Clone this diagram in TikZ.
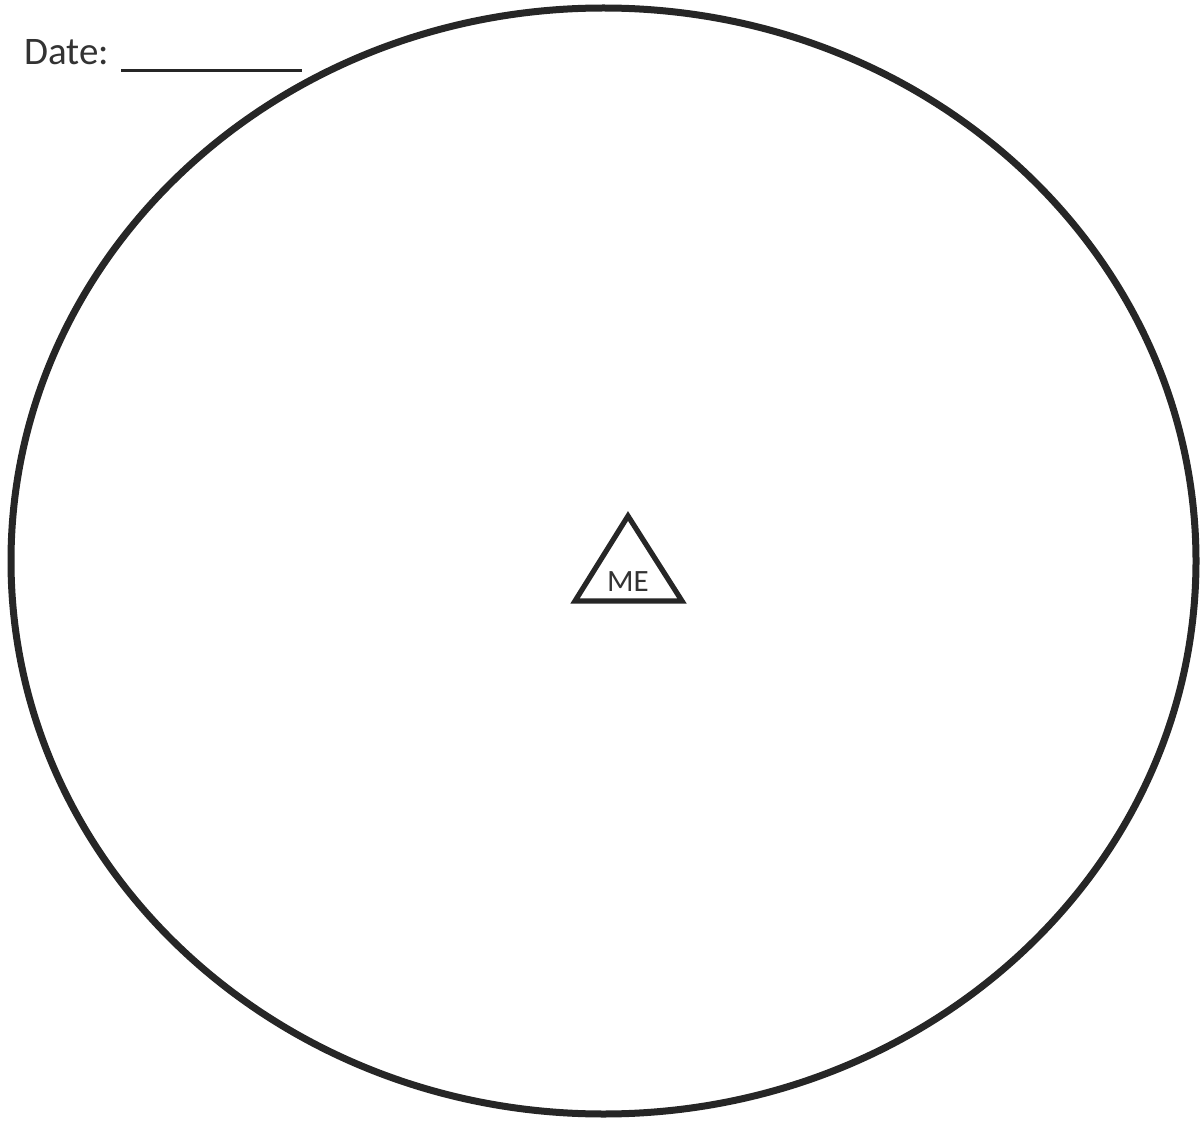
\documentclass[tikz,border=0pt]{standalone}
\usepackage{fontspec}
\setmainfont{Carlito}
\begin{document}
\begin{tikzpicture}[x=0.5pt,y=-0.5pt,
  outline/.style={draw=black!85, line width=3.5pt},
  tri/.style={draw=black!85, line width=2.6pt, line join=miter},
  lbl/.style={inner sep=0pt, text=black!80}]
\useasboundingbox[fill=white] (0,0) rectangle (1200,1123);
\draw[outline] (603.5,561) ellipse [x radius=592.5, y radius=553];
\coordinate (apex) at (628,516);
\coordinate (bl) at (575,601);
\coordinate (br) at (682,601);
\draw[tri] (apex) -- (bl) -- (br) -- cycle;
\node[lbl, font=\fontsize{15.5}{18}\selectfont, anchor=base] (me) at (628,591) {ME};
\node[lbl, font=\fontsize{19.5}{23}\selectfont, anchor=base west] (date) at (24,65) {Date:};
\coordinate (u1) at (121,71);
\coordinate (u2) at (302,71);
\draw[line width=1.5pt, black!85] (u1) -- (u2);
\end{tikzpicture}
\end{document}
